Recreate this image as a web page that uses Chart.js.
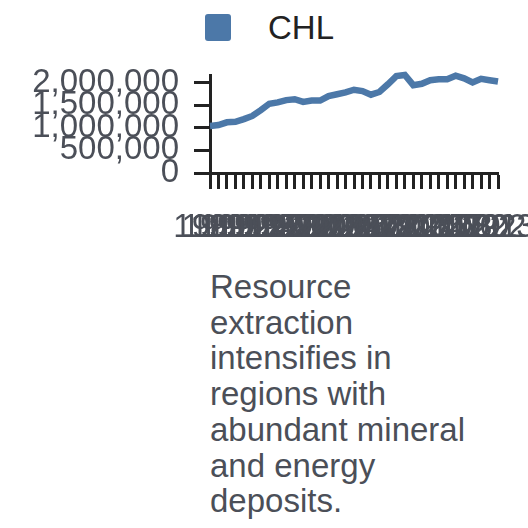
<!DOCTYPE html>
<html>
<head>
<meta charset="utf-8">
<script src="https://cdn.jsdelivr.net/npm/chart.js@4/dist/chart.umd.min.js"></script>
<style>
  html, body { margin: 0; padding: 0; background: #fff; width: 528px; height: 528px; overflow: hidden; }
  body { position: relative; font-family: "Liberation Sans", Arial, Helvetica, sans-serif; }
  #wrap { position: absolute; left: 0; top: 0; width: 528px; height: 260px; }
  #legend { position: absolute; left: 205px; top: 14px; height: 27px; }
  #legend .box { position: absolute; left: 0; top: 0; width: 26px; height: 27px; border-radius: 3px; background: #4c78a8; }
  #legend .lbl { position: absolute; left: 63px; top: -4px; font-size: 33px; line-height: 36px; color: #222; white-space: nowrap; }
  #caption { position: absolute; left: 210px; top: 269px; font-size: 33px; line-height: 35.7px; color: #4b4f58; white-space: nowrap; }
</style>
</head>
<body>
<div id="legend"><div class="box"></div><div class="lbl" id="legendLabel"></div></div>
<div id="wrap"><canvas id="c"></canvas></div>
<div id="caption"></div>
<script>
const seriesName = "CHL";
const years = ["1989","1990","1991","1992","1993","1994","1995","1996","1997","1998",
  "1999","2000","2001","2002","2003","2004","2005","2006","2007","2008",
  "2009","2010","2011","2012","2013","2014","2015","2016","2017","2018",
  "2019","2020","2021","2022","2023"];
const values = [1040000,1060000,1120000,1130000,1190000,1260000,1390000,1530000,1560000,1610000,
  1630000,1570000,1600000,1600000,1700000,1740000,1780000,1840000,1810000,1730000,
  1790000,1960000,2140000,2165000,1940000,1970000,2050000,2070000,2070000,2150000,
  2090000,2000000,2080000,2050000,2020000];
const yTicks = [0, 500000, 1000000, 1500000, 2000000];
const yMax = 2165000;
const captionLines = ["Resource", "extraction", "intensifies in", "regions with", "abundant mineral", "and energy", "deposits."];

document.getElementById('legendLabel').textContent = seriesName;
const cap = document.getElementById('caption');
captionLines.forEach((l, i) => { if (i) cap.appendChild(document.createElement('br')); cap.appendChild(document.createTextNode(l)); });

const FONT = "'Liberation Sans', Arial, Helvetica, sans-serif";
const axisColor = '#222';
const labelColor = '#4b4f58';

new Chart(document.getElementById('c'), {
  type: 'line',
  data: {
    labels: years,
    datasets: [{
      label: seriesName,
      data: values,
      borderColor: '#4c78a8',
      backgroundColor: '#4c78a8',
      borderWidth: 6.5,
      pointRadius: 0,
      tension: 0,
      fill: false,
      clip: false
    }]
  },
  options: {
    responsive: true,
    maintainAspectRatio: false,
    animation: false,
    layout: { padding: { top: 75, right: 30, left: 0, bottom: 0 } },
    plugins: { legend: { display: false }, tooltip: { enabled: false } },
    scales: {
      x: {
        type: 'category',
        offset: false,
        grid: { display: true, drawOnChartArea: false, drawTicks: true, tickLength: 16, tickWidth: 3, tickColor: axisColor },
        border: { display: true, color: axisColor, width: 3 },
        ticks: { autoSkip: false, maxRotation: 0, minRotation: 0, padding: 19, color: labelColor, font: { family: FONT, size: 33 } },
        afterFit: s => { s.paddingLeft = 0; s.paddingRight = 0; s.height = 87; }
      },
      y: {
        min: 0,
        max: yMax,
        grid: { display: true, drawOnChartArea: false, drawTicks: true, tickLength: 16, tickWidth: 3, tickColor: axisColor },
        border: { display: true, color: axisColor, width: 3 },
        ticks: { autoSkip: false, padding: 15, color: labelColor, font: { family: FONT, size: 33 } },
        afterBuildTicks: s => { s.ticks = yTicks.map(v => ({ value: v })); },
        afterFit: s => { s.paddingTop = 0; s.paddingBottom = 0; s.width = 210; }
      }
    }
  }
});
</script>
</body>
</html>
